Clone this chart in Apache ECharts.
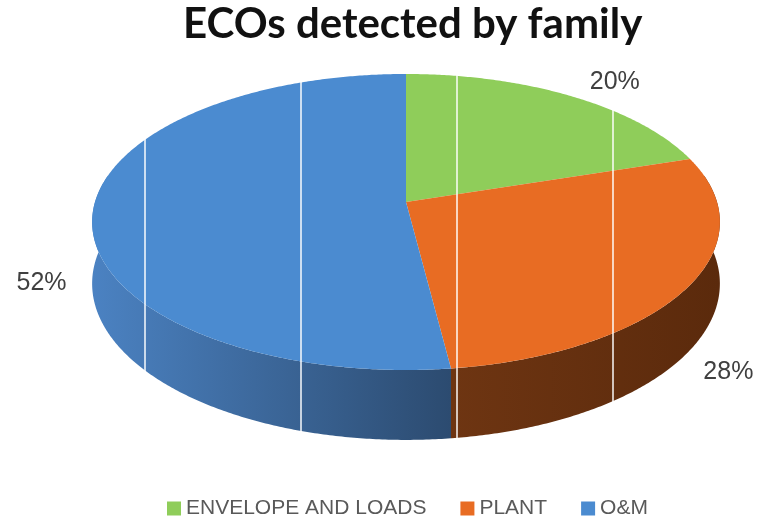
<!DOCTYPE html>
<html>
<head>
<meta charset="utf-8">
<script src="https://cdn.jsdelivr.net/npm/echarts@6/dist/echarts.min.js"></script>
<style>
  html, body { margin: 0; padding: 0; background: #ffffff; }
  #chart { width: 763px; height: 519px; }
</style>
</head>
<body>
<div id="chart"></div>
<script>
// Share of ECOs per family (percent)
const categories = ['ENVELOPE AND LOADS', 'PLANT', 'O&M'];
const shares = [20, 28, 52];
const topColors = ['#8fcd5a', '#e86c23', '#4b8bd0'];
const sideColors = [
  ['#5f8a3a', '#4f7530'],
  ['#6e3512', '#5b2a0c'],
  ['#4b82c2', '#2c4b70']
];
const gridTicks = [0, 1, 2, 3];

// Projection of the tilted disc (perspective pie)
const geo = { cx: 406, cy: 202, a: 311, b: 145.3, k: 0.135, h: 60.5 };
// small hand adjustments of the label anchors (px)
const labelNudge = [[22, 0], [-7, -3], [-4, 0]];

function proj(theta, r) {
  const X = r * Math.sin(theta), Z = r * Math.cos(theta);
  const s = 1 + geo.k * Z;
  return [geo.cx + geo.a * X / s, geo.cy - geo.b * Z / s];
}
function depth(theta) {
  return geo.h / (1 + geo.k * Math.cos(theta));
}
const total = shares.reduce((p, q) => p + q, 0);
function startShare(i) {
  return shares.slice(0, i).reduce((p, q) => p + q, 0);
}

function sliceSeries(i) {
  return {
    type: 'custom',
    name: categories[i],
    coordinateSystem: 'none',
    z: 2,
    itemStyle: { color: topColors[i] },
    data: [shares[i]],
    silent: true,
    renderItem: function (params, api) {
      const before = startShare(i);
      const a0 = before / total * 2 * Math.PI;
      const a1 = (before + api.value(0)) / total * 2 * Math.PI;
      const step = Math.PI / 360;
      const children = [];

      // front wall of the slice (visible part of the rim)
      const v0 = Math.max(a0, Math.PI * 0.44);
      const v1 = Math.min(a1, Math.PI * 1.56);
      if (v1 > v0) {
        const upper = [], lower = [];
        for (let t = v0; t < v1; t += step) {
          const p = proj(t, 1);
          upper.push(p);
          lower.push([p[0], p[1] + depth(t)]);
        }
        const pe = proj(v1, 1);
        upper.push(pe);
        lower.push([pe[0], pe[1] + depth(v1)]);
        const xs = upper.map(p => p[0]);
        const xmin = Math.min.apply(null, xs), xmax = Math.max.apply(null, xs);
        const stops = [
          { offset: 0, color: sideColors[i][0] },
          { offset: 1, color: sideColors[i][1] }
        ];
        children.push({
          type: 'polygon',
          shape: { points: upper.concat(lower.reverse()) },
          style: {
            fill: new echarts.graphic.LinearGradient(xmin, 0, xmax, 0, stops, true)
          }
        });
      }

      // top face of the slice
      const top = [[geo.cx, geo.cy]];
      for (let t = a0; t < a1; t += step) top.push(proj(t, 1));
      top.push(proj(a1, 1));
      children.push({
        type: 'polygon',
        shape: { points: top },
        style: { fill: topColors[i] }
      });
      return { type: 'group', children: children };
    }
  };
}

// percentage labels placed just outside each slice
const labelSeries = {
  type: 'custom',
  name: 'labels',
  coordinateSystem: 'none',
  z: 6,
  silent: true,
  data: shares.map((v, i) => [v, i]),
  renderItem: function (params, api) {
    const i = api.value(1);
    const before = startShare(i);
    const mid = (before + api.value(0) / 2) / total * 2 * Math.PI;
    const p = proj(mid, 1.15);
    const dy = Math.cos(mid) < 0 ? depth(mid) * 1.15 : 0;
    return {
      type: 'text',
      style: {
        text: api.value(0) + '%',
        x: p[0] + labelNudge[i][0], y: p[1] + dy + labelNudge[i][1],
        align: 'center', verticalAlign: 'middle',
        font: '25px "Liberation Sans"',
        fill: '#404040'
      }
    };
  }
};

const chart = echarts.init(document.getElementById('chart'), null, { renderer: 'canvas' });
chart.setOption({
  animation: false,
  backgroundColor: '#ffffff',
  title: {
    text: 'ECOs detected by family',
    left: 178,
    top: -2,
    textStyle: { fontFamily: 'Lato', fontWeight: 'bold', fontSize: 42, color: '#111111' }
  },
  legend: {
    data: categories,
    top: 498,
    left: 167,
    padding: 0,
    icon: 'rect',
    itemWidth: 14,
    itemHeight: 14,
    itemGap: 34,
    textStyle: { fontFamily: 'Liberation Sans', fontSize: 21, color: '#595959' }
  },
  grid: { left: 145, right: 150, top: 70, bottom: 75 },
  xAxis: {
    type: 'value', min: gridTicks[0], max: gridTicks[gridTicks.length - 1], interval: 1,
    z: 4,
    axisLine: { show: false }, axisTick: { show: false }, axisLabel: { show: false },
    splitLine: { show: true, lineStyle: { color: 'rgba(255,255,255,0.72)', width: 2 } }
  },
  yAxis: { type: 'value', show: false },
  series: [sliceSeries(0), sliceSeries(1), sliceSeries(2), labelSeries]
});
</script>
</body>
</html>
